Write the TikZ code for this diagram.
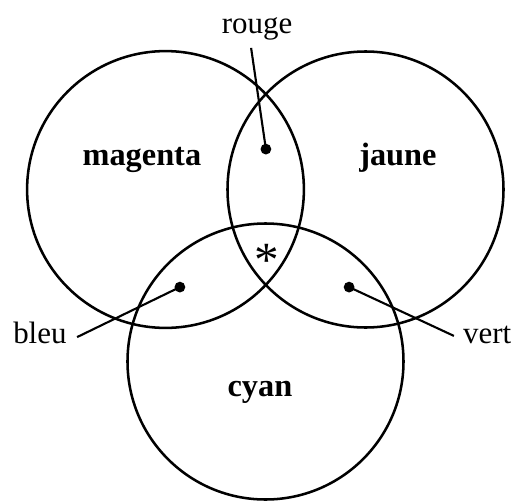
\documentclass[tikz,border=0pt]{standalone}
\usepackage{fontspec}
\setmainfont{Liberation Serif}
\usetikzlibrary{positioning}
\tikzset{
  ring/.style      = {line width=1.8pt, black},
  pointer/.style   = {line width=1.5pt, black},
  regiondot/.style = {circle, fill=black, inner sep=0pt, minimum size=0.27cm},
  setlbl/.style    = {font=\fontsize{23}{27}\selectfont\bfseries, anchor=base},
  arealbl/.style   = {font=\fontsize{22}{26}\selectfont, anchor=base},
}

\begin{document}
\begin{tikzpicture}[x=1cm, y=1cm]
  \useasboundingbox (-4.1375,-7.7875) rectangle (8.9125,4.7375);
  % circles
  \coordinate (cm) at (0,0);
  \coordinate (cj) at (5,0);
  \coordinate (cc) at (2.5,-4.3);
  \draw[ring] (cm) circle (3.46);
  \draw[ring] (cj) circle (3.45);
  \draw[ring] (cc) circle (3.45);
  % set names
  \node[setlbl] (magenta) at (-0.59,0.59) {magenta};
  \node[setlbl] (jaune) at (5.81,0.59) {jaune};
  \node[setlbl] (cyan) at (2.36,-5.18) {cyan};
  % overlaps
  \node[regiondot] (drouge) at (2.51,1.01) {};
  \node[regiondot] (dbleu) at (0.36,-2.44) {};
  \node[regiondot] (dvert) at (4.59,-2.44) {};
  \node[font=\fontsize{35}{38}\selectfont, anchor=base] (star) at (2.54,-2.18) {*};
  \node[arealbl] (rouge) at (2.29,3.91) {rouge};
  \node[arealbl] (bleu) at (-3.14,-3.84) {bleu};
  \node[arealbl] (vert) at (8.04,-3.84) {vert};
  \coordinate (erouge) at (2.14,3.54);
  \coordinate (ebleu) at (-2.21,-3.69);
  \coordinate (evert) at (7.21,-3.66);
  \draw[pointer] (drouge.center) -- (erouge);
  \draw[pointer] (dbleu.center) -- (ebleu);
  \draw[pointer] (dvert.center) -- (evert);
\end{tikzpicture}
\end{document}
